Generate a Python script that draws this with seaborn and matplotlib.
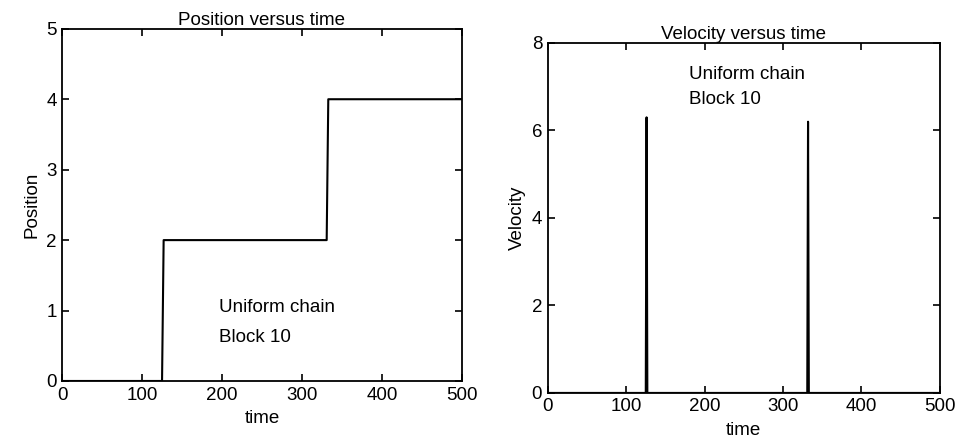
import pandas as pd
import matplotlib.pyplot as plt
import seaborn as sns

# step trajectory of block 10 in a uniform chain
pos_time = [0, 125, 127, 331, 333, 500]
pos_value = [0, 0, 2, 2, 4, 4]

# velocity spikes when the block moves
vel_time = [0, 125, 126, 127, 331, 332, 333, 500]
vel_value = [0, 0, 6.3, 0, 0, 6.2, 0, 0]

x_ticks = [0, 100, 200, 300, 400, 500]
pos_ticks = [0, 1, 2, 3, 4, 5]
vel_ticks = [0, 2, 4, 6, 8]

sns.set_theme(style="ticks")
plt.rcParams['font.family'] = ['Liberation Sans', 'DejaVu Sans']
plt.rcParams.update({
    'axes.edgecolor': 'black',
    'axes.linewidth': 1.3,
    'text.color': 'black',
    'axes.labelcolor': 'black',
    'xtick.direction': 'in',
    'ytick.direction': 'in',
    'xtick.top': True,
    'ytick.right': True,
    'xtick.major.size': 5,
    'ytick.major.size': 5,
    'xtick.major.width': 1.2,
    'ytick.major.width': 1.2,
    'xtick.color': 'black',
    'ytick.color': 'black',
    'xtick.labelsize': 13.5,
    'ytick.labelsize': 13.5,
    'axes.labelsize': 13.5,
    'axes.titlesize': 13.5,
})

pos_df = pd.DataFrame({'time': pos_time, 'Position': pos_value})
vel_df = pd.DataFrame({'time': vel_time, 'Velocity': vel_value})

fig = plt.figure(figsize=(9.56, 4.43), dpi=100)
ax1 = fig.add_axes([0.065, 0.14, 0.418, 0.795])
ax2 = fig.add_axes([0.573, 0.113, 0.41, 0.79])

# left: position
sns.lineplot(data=pos_df, x='time', y='Position', color='black', lw=1.5, ax=ax1)
ax1.set_xlim(0, 500)
ax1.set_ylim(0, 5)
ax1.set_xticks(x_ticks)
ax1.set_yticks(pos_ticks)
ax1.set_title('Position versus time', pad=1)
ax1.set_xlabel('time', labelpad=5)
ax1.text(196, 1.04, 'Uniform chain', fontsize=13.5, va='center')
ax1.text(196, 0.62, 'Block 10', fontsize=13.5, va='center')

# right: velocity
sns.lineplot(data=vel_df, x='time', y='Velocity', color='black', lw=1.5, ax=ax2)
ax2.set_xlim(0, 500)
ax2.set_ylim(0, 8)
ax2.set_xticks(x_ticks)
ax2.set_yticks(vel_ticks)
ax2.set_title('Velocity versus time', pad=1)
ax2.set_xlabel('time', labelpad=5)
ax2.text(180, 7.27, 'Uniform chain', fontsize=13.5, va='center')
ax2.text(180, 6.7, 'Block 10', fontsize=13.5, va='center')

for ax in (ax1, ax2):
    ax.tick_params(pad=4)

fig.savefig('out.png', dpi=100)
